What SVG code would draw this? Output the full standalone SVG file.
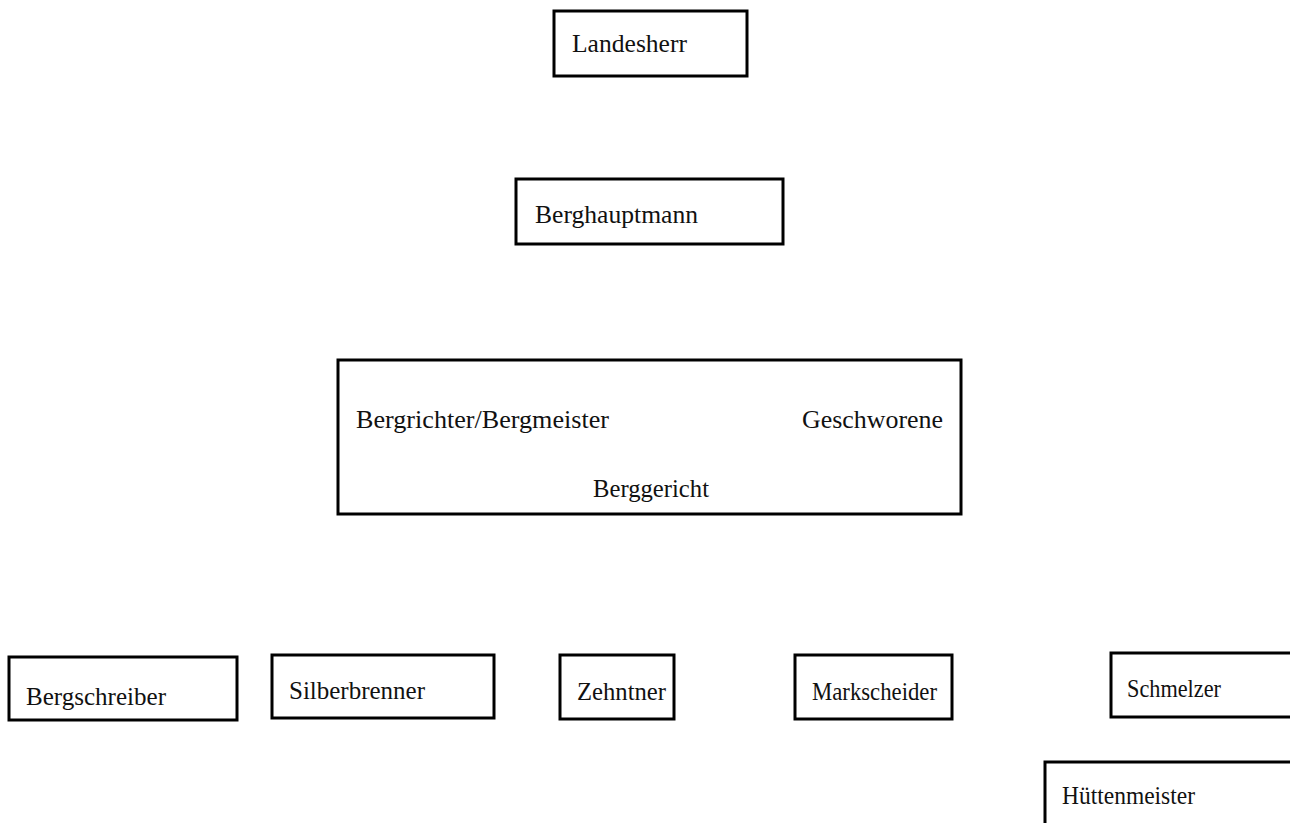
<svg xmlns="http://www.w3.org/2000/svg" width="1290" height="823" viewBox="0 0 1290 823">
<style>
.box{fill:#fff;stroke:#000;stroke-width:3}
.t{font-family:"Liberation Serif",serif;font-size:25px;fill:#111}
</style>
<rect width="1290" height="823" fill="#fff"/>
<g id="connectors"></g>
<g id="landesherr"><rect class="box" x="554" y="11" width="193" height="65"/><text class="t" x="572" y="52" textLength="115" lengthAdjust="spacingAndGlyphs">Landesherr</text></g>
<g id="berghauptmann"><rect class="box" x="516" y="179" width="267" height="65"/><text class="t" x="535" y="223" textLength="163" lengthAdjust="spacingAndGlyphs">Berghauptmann</text></g>
<g id="berggericht"><rect class="box" x="338" y="360" width="623" height="154"/>
<text class="t" x="356" y="428" textLength="253" lengthAdjust="spacingAndGlyphs">Bergrichter/Bergmeister</text>
<text class="t" x="802" y="428" textLength="141" lengthAdjust="spacingAndGlyphs">Geschworene</text>
<text class="t" x="593" y="497" textLength="116" lengthAdjust="spacingAndGlyphs">Berggericht</text></g>
<g id="bergschreiber"><rect class="box" x="9" y="657" width="228" height="63"/><text class="t" x="26" y="705" textLength="140" lengthAdjust="spacingAndGlyphs">Bergschreiber</text></g>
<g id="silberbrenner"><rect class="box" x="272" y="655" width="222" height="63"/><text class="t" x="289" y="699" textLength="136" lengthAdjust="spacingAndGlyphs">Silberbrenner</text></g>
<g id="zehntner"><rect class="box" x="560" y="655" width="114" height="64"/><text class="t" x="577" y="700" textLength="89" lengthAdjust="spacingAndGlyphs">Zehntner</text></g>
<g id="markscheider"><rect class="box" x="795" y="655" width="157" height="64"/><text class="t" x="812" y="700" textLength="125" lengthAdjust="spacingAndGlyphs">Markscheider</text></g>
<g id="schmelzer"><rect class="box" x="1111" y="653" width="182" height="64"/><text class="t" x="1127" y="697" textLength="94" lengthAdjust="spacingAndGlyphs">Schmelzer</text></g>
<g id="huettenmeister"><rect class="box" x="1045" y="762" width="250" height="70"/><text class="t" x="1062" y="804" textLength="133" lengthAdjust="spacingAndGlyphs">Hüttenmeister</text></g>
</svg>
